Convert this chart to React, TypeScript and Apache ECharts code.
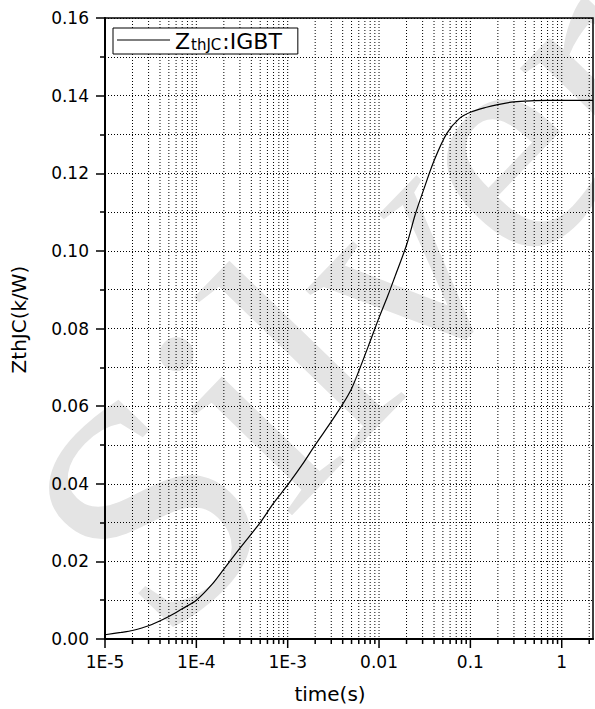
import React, { useEffect, useRef } from 'react';
import * as echarts from 'echarts';

// Curve data (time in s, ZthJC in K/W)
const timeS = [1e-5, 1.5e-5, 2e-5, 3e-5, 5e-5, 7e-5, 1e-4, 1.5e-4, 2e-4, 3e-4, 5e-4, 7e-4, 1e-3, 1.5e-3, 2e-3, 3e-3, 4e-3, 5e-3, 6e-3, 8e-3, 0.01, 0.0125, 0.015, 0.02, 0.025, 0.03, 0.04, 0.055, 0.075, 0.1, 0.15, 0.2, 0.3, 0.5, 0.7, 1, 1.5, 2.2];
const zthjc = [0.0011, 0.0017, 0.0022, 0.0034, 0.0058, 0.0078, 0.0100, 0.0142, 0.0180, 0.0234, 0.0300, 0.0350, 0.0397, 0.0455, 0.0500, 0.0560, 0.0605, 0.0645, 0.0690, 0.0767, 0.0828, 0.0885, 0.0935, 0.1015, 0.1095, 0.1150, 0.1232, 0.1302, 0.1340, 0.1357, 0.1370, 0.1377, 0.1384, 0.1387, 0.1388, 0.1388, 0.1388, 0.1388];

const seriesName = 'ZthJC:IGBT';

// Axis ticks
const xMin = 1e-5;
const xMax = 2.2;
const xDecades = [-5, -4, -3, -2, -1, 0];
const xMultipliers = [1, 2, 3, 4, 5, 6, 7, 8, 9];
const xTickLabels = ['1E-5', '1E-4', '1E-3', '0.01', '0.1', '1'];
const yMin = 0;
const yMax = 0.16;
const yInterval = 0.02;

const watermarkText = 'Silver';

const FONT = 'DejaVu Sans';

export default function App() {
  const ref = useRef<HTMLDivElement>(null);

  useEffect(() => {
    if (!ref.current) return;
    const chart = echarts.init(ref.current, undefined, { renderer: 'svg' });

    const lineData = timeS.map((t, i) => [t, zthjc[i]]);
    const gridData: number[][] = [];
    xDecades.forEach((d) => {
      xMultipliers.forEach((m) => {
        const v = m * Math.pow(10, d);
        if (v <= xMax * 1.0001) gridData.push([v, 0, m === 1 ? 1 : 0]);
      });
    });

    const dotted = { color: '#000', width: 1, type: [1, 2] as any };

    const option: any = {
      animation: false,
      backgroundColor: '#fff',
      graphic: {
        elements: [
          {
            type: 'text',
            z: -10,
            silent: true,
            x: 86,
            y: 573,
            rotation: (46 * Math.PI) / 180,
            style: {
              text: watermarkText,
              fontSize: 320,
              fontFamily: 'Liberation Serif',
              fontWeight: 'normal',
              fill: '#e4e4e4',
              verticalAlign: 'middle',
            },
          },
        ],
      },
      grid: {
        left: 105,
        right: 2,
        top: 18,
        bottom: 69.5,
        show: true,
        borderColor: '#000',
        borderWidth: 1.5,
        backgroundColor: 'transparent',
        containLabel: false,
      },
      legend: {
        left: 113,
        top: 28,
        orient: 'vertical',
        data: [seriesName],
        icon: 'rect',
        itemWidth: 53,
        itemHeight: 1,
        borderColor: '#000',
        borderWidth: 1,
        borderRadius: 0,
        padding: [2, 16, 2, 4],
        backgroundColor: '#fff',
        formatter: () => '{z|Z}{s|thJC}{z|:IGBT}',
        textStyle: {
          color: '#000',
          fontFamily: FONT,
          rich: {
            z: { fontSize: 22, fontFamily: FONT, color: '#000', lineHeight: 24, verticalAlign: 'bottom' },
            s: { fontSize: 15, fontFamily: FONT, color: '#000', lineHeight: 24, verticalAlign: 'bottom', padding: [0, 1, 0, 1] },
          },
        },
      },
      xAxis: {
        type: 'log',
        logBase: 10,
        min: xMin,
        max: xMax,
        name: 'time(s)',
        nameLocation: 'middle',
        nameGap: 45,
        nameTextStyle: { fontSize: 20, color: '#000', fontFamily: FONT, padding: [0, 38, 0, 0] },
        axisLine: { show: true, onZero: false, lineStyle: { color: '#000', width: 2 } },
        axisTick: { show: false },
        splitLine: { show: false },
        minorTick: { show: false },
        axisLabel: {
          color: '#000',
          fontSize: 17,
          fontFamily: FONT,
          margin: 14,
          showMaxLabel: false,
          formatter: (v: number) => {
            const e = Math.log10(v);
            const r = Math.round(e);
            if (Math.abs(e - r) > 1e-6) return '';
            const idx = xDecades.indexOf(r);
            return idx >= 0 ? xTickLabels[idx] : '';
          },
        },
      },
      yAxis: {
        type: 'value',
        min: yMin,
        max: yMax,
        interval: yInterval,
        name: 'ZthJC(k/W)',
        nameLocation: 'middle',
        nameGap: 76,
        nameTextStyle: { fontSize: 20, color: '#000', fontFamily: FONT, padding: [0, 0, 0, 18] },
        axisLine: { show: true, lineStyle: { color: '#000', width: 2 } },
        axisTick: { show: true, length: 9, lineStyle: { color: '#000', width: 1.5 } },
        minorTick: { show: true, splitNumber: 2, length: 5, lineStyle: { color: '#000', width: 1.5 } },
        splitLine: { show: true, lineStyle: dotted },
        minorSplitLine: { show: true, lineStyle: dotted },
        axisLabel: {
          color: '#000',
          fontSize: 17,
          fontFamily: FONT,
          margin: 16,
          formatter: (v: number) => v.toFixed(2),
        },
      },
      series: [
        {
          type: 'custom',
          name: 'xgrid',
          silent: true,
          clip: false,
          z: 1,
          encode: { x: 0, y: 1 },
          data: gridData,
          renderItem: (params: any, api: any) => {
            const x = api.coord([api.value(0), 0])[0];
            const cs = params.coordSys;
            const major = api.value(2) === 1;
            const bottom = cs.y + cs.height;
            const children: any[] = [];
            if (x > cs.x + 1.5 && x < cs.x + cs.width - 1.5) {
              children.push({
                type: 'line',
                shape: { x1: x, y1: cs.y, x2: x, y2: bottom },
                style: { stroke: '#000', lineWidth: 1, lineDash: [1, 2] },
              });
            }
            children.push({
              type: 'line',
              shape: { x1: x, y1: bottom, x2: x, y2: bottom + (major ? 9 : 5) },
              style: { stroke: '#000', lineWidth: 1.5 },
            });
            return { type: 'group', children };
          },
        },
        {
          type: 'line',
          name: seriesName,
          data: lineData,
          symbol: 'none',
          showSymbol: false,
          smooth: 0.3,
          z: 5,
          lineStyle: { color: '#000', width: 1.2 },
          itemStyle: { color: '#000' },
        },
      ],
    };

    chart.setOption(option);
    return () => chart.dispose();
  }, []);

  return (
    <div
      ref={ref}
      style={{ position: 'fixed', left: 0, top: 0, width: 595, height: 709, background: '#fff' }}
    />
  );
}
